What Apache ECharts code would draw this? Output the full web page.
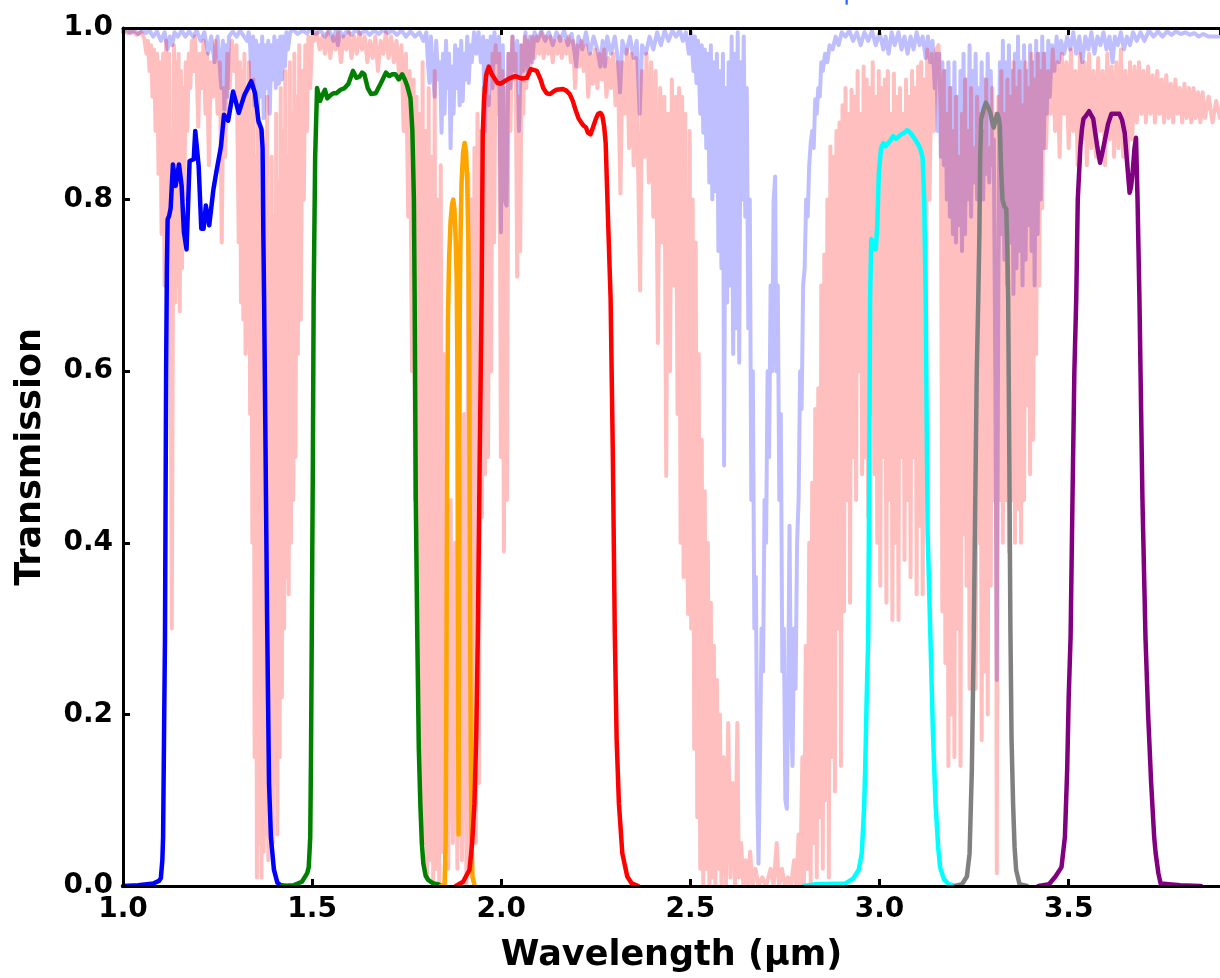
<!DOCTYPE html>
<html>
<head>
<meta charset="utf-8">
<script src="https://cdn.jsdelivr.net/npm/echarts@6/dist/echarts.min.js"></script>
<style>
html,body{margin:0;padding:0;background:#fff;}
#chart{width:1220px;height:978px;}
</style>
</head>
<body>
<div id="chart"></div>
<script>
// ---------------- data (wavelength in micron, transmission) ----------------
const xTickLabels = ['1.0','1.5','2.0','2.5','3.0','3.5'];
const yTickLabels = ['0.0','0.2','0.4','0.6','0.8','1.0'];

// atmospheric transmission, site A (light blue)
const atmBlue = [
[1.000,0.995],[1.010,0.998],[1.020,0.994],[1.030,0.997],[1.040,0.993],[1.050,0.997],[1.060,0.994],[1.070,0.997],[1.080,0.99],[1.090,0.996],[1.100,0.985],[1.110,0.995],[1.118,0.975],[1.124,0.99],[1.130,0.98],[1.136,0.995],[1.145,0.99],[1.155,0.997],[1.165,0.99],[1.175,0.996],[1.185,0.99],[1.195,0.997],[1.205,0.985],[1.215,0.995],[1.225,0.97],[1.233,0.99],[1.242,0.96],[1.250,0.99],[1.255,0.99],[1.260,0.93],[1.264,0.985],[1.268,0.905],[1.272,0.98],[1.276,0.92],[1.280,0.99],[1.290,0.996],[1.300,0.99],[1.310,0.997],[1.320,0.99],[1.328,0.985],[1.332,0.995],
[1.336,0.98],[1.340,0.93],[1.344,0.99],[1.348,0.91],[1.352,0.985],[1.356,0.89],[1.360,0.98],[1.364,0.92],[1.368,0.99],[1.372,0.895],[1.376,0.98],[1.380,0.93],[1.384,0.985],[1.388,0.90],[1.392,0.98],[1.396,0.94],[1.400,0.99],[1.404,0.93],[1.408,0.985],[1.412,0.935],[1.416,0.99],[1.420,0.94],[1.424,0.99],[1.428,0.955],[1.432,0.995],[1.436,0.975],[1.442,0.995],
[1.450,0.998],[1.462,0.993],[1.474,0.997],[1.486,0.994],[1.498,0.998],[1.510,0.993],[1.522,0.997],[1.534,0.99],[1.546,0.997],[1.556,0.985],[1.562,0.997],[1.568,0.98],[1.574,0.996],[1.582,0.99],[1.592,0.997],[1.604,0.992],[1.616,0.998],[1.628,0.993],[1.640,0.997],[1.652,0.992],[1.664,0.997],[1.676,0.993],[1.688,0.998],[1.700,0.994],[1.712,0.997],[1.724,0.992],[1.736,0.997],[1.748,0.99],[1.760,0.996],[1.772,0.99],[1.784,0.995],[1.794,0.985],[1.802,0.995],
[1.806,0.96],[1.810,0.936],[1.814,0.99],[1.819,0.95],[1.824,0.92],[1.828,0.985],[1.833,0.94],[1.838,0.96],[1.842,0.878],[1.846,0.97],[1.850,0.90],[1.854,0.985],[1.858,0.93],[1.862,0.97],[1.866,0.86],[1.870,0.955],[1.874,0.90],[1.878,0.98],[1.882,0.93],[1.886,0.975],[1.890,0.91],[1.894,0.985],[1.898,0.915],[1.902,0.97],[1.906,0.94],[1.910,0.99],[1.914,0.936],[1.918,0.98],[1.922,0.96],[1.928,0.995],[1.934,0.97],[1.940,0.995],[1.946,0.96],[1.952,0.99],[1.957,0.88],[1.962,0.985],[1.967,0.91],[1.972,0.99],[1.977,0.93],[1.982,0.995],[1.988,0.96],[1.994,0.99],[1.999,0.762],[2.004,0.98],[2.009,0.80],[2.014,0.793],[2.019,0.97],[2.024,0.93],[2.030,0.99],[2.036,0.95],[2.042,0.985],[2.047,0.88],[2.052,0.98],[2.058,0.95],[2.064,0.995],[2.070,0.95],[2.076,0.99],[2.082,0.96],[2.088,0.995],
[2.096,0.985],[2.106,0.997],[2.116,0.985],[2.126,0.995],[2.136,0.98],[2.146,0.995],[2.156,0.985],[2.166,0.997],[2.176,0.98],[2.186,0.993],[2.194,0.97],[2.198,0.955],[2.204,0.99],[2.214,0.975],[2.224,0.995],[2.234,0.97],[2.244,0.99],[2.254,0.975],[2.262,0.955],[2.268,0.985],[2.274,0.955],[2.280,0.99],[2.290,0.97],[2.300,0.99],[2.308,0.965],[2.314,0.925],[2.320,0.985],[2.330,0.97],[2.340,0.99],[2.350,0.965],[2.358,0.985],[2.366,0.90],[2.372,0.98],[2.382,0.97],[2.392,0.99],[2.402,0.975],[2.412,0.995],[2.422,0.98],[2.432,0.997],[2.442,0.985],[2.452,0.997],[2.462,0.99],[2.472,0.997],[2.480,0.985],[2.488,0.995],
[2.496,0.97],[2.502,0.995],[2.508,0.95],[2.512,0.99],[2.516,0.936],[2.520,0.985],[2.526,0.90],[2.530,0.98],[2.534,0.878],[2.538,0.975],[2.542,0.86],[2.546,0.97],[2.550,0.82],[2.554,0.98],[2.558,0.80],[2.562,0.96],[2.566,0.81],[2.570,0.97],[2.574,0.74],[2.578,0.95],[2.582,0.72],[2.586,0.97],[2.589,0.49],[2.593,0.93],[2.597,0.68],[2.601,0.96],[2.605,0.70],[2.609,0.99],[2.613,0.62],[2.617,0.97],[2.621,0.65],[2.625,0.995],[2.629,0.61],[2.633,0.96],[2.637,0.80],[2.641,0.99],[2.645,0.78],[2.649,0.93],[2.653,0.65],[2.657,0.80],[2.661,0.45],[2.665,0.60],[2.669,0.30],[2.673,0.36],[2.677,0.10],[2.680,0.026],[2.684,0.15],[2.688,0.30],[2.692,0.25],[2.696,0.45],[2.700,0.40],[2.704,0.60],[2.708,0.50],[2.712,0.70],[2.716,0.60],[2.720,0.80],[2.724,0.827],[2.727,0.60],[2.731,0.70],[2.735,0.45],[2.739,0.55],[2.743,0.25],[2.747,0.30],[2.751,0.10],[2.755,0.09],[2.759,0.25],[2.762,0.42],[2.766,0.20],[2.770,0.14],[2.774,0.30],[2.778,0.23],[2.782,0.40],[2.786,0.45],[2.790,0.60],[2.794,0.556],[2.798,0.70],[2.802,0.72],[2.806,0.80],[2.810,0.78],[2.814,0.84],[2.818,0.866],[2.822,0.88],[2.826,0.86],[2.830,0.917],[2.834,0.90],[2.838,0.93],[2.842,0.92],[2.846,0.96],[2.850,0.95],[2.856,0.97],[2.862,0.96],[2.868,0.98],[2.876,0.975],[2.884,0.99],[2.892,0.98],[2.900,0.995],
[2.910,0.99],[2.920,0.997],[2.930,0.985],[2.940,0.995],[2.950,0.98],[2.960,0.995],[2.970,0.985],[2.980,0.997],[2.990,0.98],[3.000,0.995],[3.010,0.975],[3.016,0.99],[3.024,0.97],[3.032,0.995],[3.040,0.98],[3.050,0.995],[3.058,0.975],[3.066,0.99],[3.074,0.97],[3.082,0.99],[3.090,0.975],[3.098,0.995],[3.106,0.98],[3.114,0.99],[3.122,0.965],[3.128,0.99],[3.134,0.96],[3.140,0.985],[3.146,0.93],
[3.150,0.97],[3.154,0.88],[3.158,0.97],[3.162,0.85],[3.166,0.96],[3.170,0.84],[3.174,0.95],[3.178,0.80],[3.182,0.96],[3.186,0.78],[3.190,0.93],[3.194,0.76],[3.198,0.96],[3.202,0.75],[3.206,0.92],[3.210,0.77],[3.214,0.95],[3.218,0.74],[3.222,0.97],[3.226,0.76],[3.230,0.94],[3.234,0.80],[3.238,0.98],[3.242,0.78],[3.246,0.95],[3.250,0.82],[3.254,0.97],[3.258,0.80],[3.262,0.93],[3.266,0.84],[3.270,0.96],[3.274,0.80],[3.278,0.94],[3.282,0.83],[3.286,0.97],[3.290,0.82],[3.294,0.95],[3.298,0.84],[3.302,0.87],[3.306,0.60],[3.310,0.24],[3.314,0.70],[3.318,0.96],[3.322,0.76],[3.326,0.985],[3.330,0.73],[3.334,0.96],[3.338,0.70],[3.342,0.98],[3.346,0.75],[3.350,0.95],[3.354,0.69],[3.358,0.97],[3.362,0.72],[3.366,0.99],[3.370,0.74],[3.374,0.96],[3.378,0.70],[3.382,0.98],[3.386,0.73],[3.390,0.95],[3.394,0.77],[3.398,0.98],[3.402,0.74],[3.406,0.96],[3.410,0.70],[3.414,0.985],[3.418,0.76],[3.422,0.97],[3.426,0.80],[3.430,0.99],[3.434,0.86],[3.438,0.97],[3.442,0.90],[3.446,0.985],[3.450,0.92],[3.456,0.98],[3.462,0.95],[3.468,0.99],[3.474,0.96],
[3.480,0.985],[3.488,0.97],[3.496,0.99],[3.504,0.975],[3.512,0.995],[3.520,0.97],[3.528,0.99],[3.536,0.96],[3.544,0.99],[3.552,0.975],[3.560,0.995],[3.568,0.97],[3.576,0.99],[3.584,0.98],[3.592,0.995],[3.600,0.975],[3.608,0.99],[3.616,0.96],[3.622,0.99],[3.630,0.98],[3.638,0.995],[3.646,0.975],[3.654,0.99],[3.662,0.98],[3.670,0.995],[3.680,0.985],[3.690,0.995],[3.700,0.985],[3.712,0.997],[3.724,0.99],[3.736,0.996],[3.748,0.99],[3.760,0.996],[3.772,0.992],[3.784,0.996],[3.796,0.993],[3.808,0.995],[3.820,0.992],[3.832,0.994],[3.844,0.99],[3.856,0.993],[3.870,0.99],[3.900,0.99]
];

// atmospheric transmission, site B (light red)
const atmRed = [
[1.000,0.997],[1.012,0.994],[1.024,0.997],[1.036,0.992],[1.048,0.995],[1.056,0.988],
[1.062,0.97],[1.066,0.985],[1.070,0.95],[1.074,0.98],[1.078,0.92],[1.082,0.975],[1.086,0.88],[1.090,0.97],[1.094,0.83],[1.098,0.96],[1.102,0.76],[1.106,0.97],[1.110,0.70],[1.114,0.985],[1.118,0.69],[1.122,0.97],[1.126,0.66],[1.129,0.30],[1.132,0.70],[1.135,0.98],[1.138,0.68],[1.141,0.96],[1.144,0.70],[1.147,0.97],[1.150,0.67],[1.153,0.95],[1.156,0.72],[1.159,0.93],[1.162,0.80],[1.166,0.96],[1.170,0.88],[1.174,0.97],[1.178,0.93],[1.182,0.985],[1.186,0.95],[1.190,0.99],
[1.195,0.95],[1.199,0.885],[1.203,0.97],[1.208,0.93],[1.213,0.985],[1.218,0.90],[1.222,0.97],[1.227,0.84],[1.232,0.96],[1.238,0.92],[1.244,0.985],[1.250,0.90],[1.256,0.96],[1.261,0.75],[1.265,0.93],[1.270,0.85],[1.276,0.97],[1.282,0.93],[1.288,0.985],[1.294,0.95],[1.300,0.98],
[1.303,0.98],[1.306,0.75],[1.309,0.96],[1.312,0.68],[1.315,0.95],[1.318,0.66],[1.321,0.97],[1.324,0.62],[1.327,0.93],[1.330,0.63],[1.333,0.96],[1.336,0.55],[1.339,0.90],[1.342,0.40],[1.345,0.94],[1.348,0.15],[1.351,0.85],[1.354,0.01],[1.357,0.90],[1.360,0.05],[1.363,0.80],[1.366,0.01],[1.369,0.88],[1.372,0.04],[1.375,0.75],[1.378,0.06],[1.381,0.92],[1.384,0.03],[1.387,0.70],[1.390,0.08],[1.393,0.85],[1.396,0.05],[1.399,0.78],[1.402,0.12],[1.405,0.90],[1.408,0.06],[1.411,0.82],[1.414,0.15],[1.417,0.93],[1.420,0.22],[1.423,0.88],[1.426,0.30],[1.429,0.95],[1.432,0.36],[1.435,0.85],[1.438,0.34],[1.441,0.96],[1.444,0.40],[1.447,0.90],[1.450,0.45],[1.453,0.97],[1.456,0.50],[1.459,0.92],[1.462,0.62],[1.466,0.98],[1.470,0.66],[1.474,0.95],[1.478,0.80],[1.482,0.98],[1.486,0.88],[1.490,0.99],[1.495,0.93],[1.500,0.99],
[1.505,0.985],[1.512,0.995],[1.520,0.975],[1.527,0.99],[1.534,0.97],[1.541,0.995],[1.548,0.965],[1.555,0.99],[1.562,0.975],[1.569,0.995],[1.576,0.96],[1.583,0.99],[1.590,0.975],[1.597,0.995],[1.604,0.965],[1.611,0.99],[1.618,0.97],[1.625,0.995],[1.632,0.975],[1.639,0.99],[1.646,0.96],[1.653,0.985],[1.660,0.965],[1.667,0.99],[1.674,0.95],[1.681,0.985],[1.688,0.97],[1.695,0.995],[1.702,0.965],[1.709,0.99],[1.716,0.96],[1.723,0.985],[1.730,0.945],[1.736,0.98],[1.742,0.88],[1.748,0.97],[1.754,0.78],[1.758,0.95],
[1.764,0.60],[1.768,0.94],[1.772,0.45],[1.776,0.92],[1.780,0.30],[1.784,0.90],[1.788,0.12],[1.792,0.96],[1.796,0.05],[1.800,0.88],[1.804,0.01],[1.808,0.93],[1.812,0.03],[1.816,0.85],[1.820,0.00],[1.824,0.95],[1.828,0.02],[1.832,0.80],[1.836,0.00],[1.840,0.84],[1.844,0.04],[1.848,0.62],[1.852,0.00],[1.856,0.52],[1.860,0.02],[1.866,0.45],[1.872,0.05],[1.878,0.40],[1.884,0.02],[1.890,0.50],[1.896,0.03],[1.902,0.55],[1.908,0.00],[1.913,0.83],[1.917,0.02],[1.921,0.80],[1.925,0.10],[1.929,0.86],[1.933,0.05],[1.937,0.90],[1.941,0.12],[1.945,0.88],[1.949,0.43],[1.953,0.93],[1.957,0.48],[1.961,0.95],[1.965,0.50],[1.969,0.92],[1.973,0.60],[1.977,0.97],[1.981,0.75],[1.985,0.98],[1.990,0.90],[1.995,0.97],[1.999,0.50],[2.003,0.95],[2.007,0.39],[2.011,0.93],[2.015,0.45],[2.019,0.97],[2.024,0.88],[2.029,0.99],[2.033,0.94],[2.038,0.97],[2.042,0.71],[2.046,0.92],[2.050,0.74],[2.054,0.98],[2.058,0.90],[2.062,0.99],[2.066,0.93],
[2.070,0.985],[2.076,0.95],[2.082,0.99],[2.088,0.965],[2.094,0.99],[2.100,0.97],[2.106,0.995],[2.112,0.965],[2.118,0.99],[2.124,0.97],[2.130,0.99],[2.136,0.96],[2.142,0.985],[2.148,0.97],[2.154,0.99],[2.160,0.965],[2.166,0.985],[2.172,0.97],[2.178,0.99],[2.184,0.96],[2.190,0.985],[2.195,0.93],[2.200,0.98],[2.206,0.955],[2.212,0.985],[2.218,0.95],[2.224,0.98],[2.230,0.92],[2.236,0.97],[2.242,0.935],[2.248,0.975],[2.254,0.93],[2.260,0.97],[2.266,0.94],[2.272,0.975],[2.278,0.92],[2.284,0.965],[2.290,0.93],[2.296,0.97],[2.302,0.91],[2.308,0.96],[2.315,0.807],[2.320,0.96],[2.326,0.90],[2.332,0.975],[2.338,0.86],[2.344,0.97],[2.350,0.84],[2.356,0.965],[2.362,0.83],[2.367,0.694],[2.372,0.95],[2.378,0.85],[2.384,0.97],[2.390,0.82],[2.396,0.96],[2.402,0.78],[2.408,0.95],[2.414,0.633],[2.420,0.93],[2.426,0.75],[2.431,0.92],[2.436,0.478],[2.441,0.90],[2.446,0.60],[2.451,0.94],[2.456,0.70],[2.461,0.92],[2.466,0.55],
[2.470,0.93],[2.474,0.40],[2.478,0.92],[2.482,0.36],[2.486,0.90],[2.490,0.45],[2.494,0.317],[2.498,0.88],[2.502,0.30],[2.506,0.80],[2.510,0.16],[2.514,0.75],[2.518,0.08],[2.522,0.62],[2.526,0.02],[2.530,0.52],[2.534,0.00],[2.538,0.46],[2.542,0.02],[2.546,0.40],[2.550,0.00],[2.554,0.33],[2.558,0.01],[2.562,0.28],[2.566,0.00],[2.570,0.24],[2.574,0.02],[2.578,0.20],[2.582,0.00],[2.588,0.15],[2.594,0.00],[2.600,0.19],[2.606,0.01],[2.612,0.12],[2.618,0.00],[2.624,0.19],[2.628,0.01],
[2.634,0.05],[2.640,0.00],[2.646,0.03],[2.652,0.00],[2.658,0.04],[2.664,0.00],[2.672,0.02],[2.680,0.00],[2.690,0.01],[2.700,0.00],[2.712,0.02],[2.720,0.00],[2.728,0.05],[2.734,0.00],[2.742,0.02],[2.750,0.00],[2.758,0.01],[2.766,0.00],[2.774,0.03],[2.780,0.00],[2.786,0.06],[2.790,0.00],[2.796,0.15],[2.800,0.00],[2.805,0.28],[2.809,0.02],[2.814,0.40],[2.818,0.00],[2.822,0.47],[2.826,0.05],[2.830,0.556],[2.834,0.01],[2.838,0.58],[2.842,0.08],[2.846,0.70],[2.850,0.02],[2.854,0.736],[2.858,0.10],[2.862,0.80],[2.866,0.01],[2.870,0.862],[2.874,0.15],[2.878,0.85],[2.882,0.11],[2.886,0.88],[2.890,0.30],[2.894,0.89],[2.898,0.14],[2.902,0.91],[2.906,0.32],[2.910,0.93],[2.914,0.45],[2.918,0.90],[2.922,0.33],[2.926,0.928],[2.930,0.50],[2.934,0.92],[2.938,0.45],[2.942,0.95],[2.946,0.60],[2.950,0.90],[2.954,0.48],[2.958,0.955],[2.962,0.50],[2.966,0.94],[2.970,0.43],[2.974,0.93],[2.978,0.55],[2.982,0.96],[2.986,0.48],[2.990,0.92],[2.994,0.40],[2.998,0.95],[3.002,0.35],[3.006,0.93],[3.010,0.50],[3.014,0.94],[3.018,0.33],[3.022,0.95],[3.026,0.45],[3.030,0.90],[3.034,0.31],[3.038,0.947],[3.042,0.40],[3.046,0.92],[3.050,0.31],[3.054,0.93],[3.058,0.50],[3.062,0.90],[3.066,0.38],[3.070,0.94],[3.074,0.45],[3.078,0.92],[3.082,0.36],[3.086,0.95],[3.090,0.50],[3.094,0.93],[3.098,0.34],[3.102,0.955],[3.106,0.42],[3.110,0.96],[3.114,0.34],[3.118,0.94],[3.122,0.55],[3.126,0.975],[3.132,0.80],[3.138,0.97],[3.144,0.88],[3.150,0.975],
[3.156,0.98],[3.162,0.90],[3.166,0.32],[3.170,0.95],[3.174,0.26],[3.178,0.90],[3.182,0.14],[3.186,0.93],[3.190,0.20],[3.194,0.88],[3.198,0.15],[3.202,0.92],[3.206,0.30],[3.210,0.85],[3.214,0.14],[3.218,0.90],[3.222,0.41],[3.226,0.94],[3.230,0.35],[3.234,0.88],[3.238,0.23],[3.242,0.93],[3.246,0.30],[3.250,0.86],[3.254,0.23],[3.258,0.92],[3.262,0.40],[3.266,0.90],[3.270,0.17],[3.274,0.88],[3.278,0.25],[3.282,0.94],[3.286,0.20],[3.290,0.86],[3.294,0.35],[3.298,0.93],[3.302,0.45],[3.306,0.90],[3.310,0.015],[3.314,0.92],[3.318,0.45],[3.322,0.95],[3.326,0.40],[3.330,0.90],[3.334,0.45],[3.338,0.94],[3.342,0.39],[3.346,0.92],[3.350,0.45],[3.354,0.96],[3.358,0.40],[3.362,0.93],[3.366,0.44],[3.370,0.95],[3.374,0.40],[3.378,0.91],[3.382,0.45],[3.386,0.96],[3.390,0.56],[3.394,0.93],[3.398,0.48],[3.402,0.97],[3.406,0.52],[3.410,0.94],[3.414,0.62],[3.418,0.97],[3.422,0.70],[3.426,0.95],[3.430,0.79],[3.434,0.97],[3.440,0.86],
[3.446,0.95],[3.452,0.90],[3.458,0.975],[3.464,0.88],[3.470,0.96],[3.476,0.85],[3.482,0.97],[3.488,0.90],[3.494,0.96],[3.500,0.86],[3.506,0.975],[3.512,0.88],[3.518,0.95],[3.524,0.84],[3.530,0.97],[3.536,0.87],[3.542,0.96],[3.548,0.84],[3.554,0.97],[3.560,0.86],[3.566,0.95],[3.572,0.85],[3.578,0.965],[3.584,0.88],[3.590,0.95],[3.596,0.84],[3.602,0.97],[3.608,0.87],[3.614,0.955],[3.620,0.85],[3.626,0.96],[3.632,0.86],[3.638,0.975],[3.644,0.85],[3.650,0.95],[3.656,0.84],[3.662,0.96],[3.668,0.87],[3.674,0.955],[3.680,0.89],[3.686,0.96],[3.692,0.90],[3.698,0.95],[3.704,0.89],[3.710,0.955],[3.716,0.90],[3.722,0.945],[3.728,0.89],[3.734,0.95],[3.740,0.90],[3.746,0.94],[3.752,0.89],[3.758,0.945],[3.764,0.895],[3.770,0.935],[3.776,0.89],[3.782,0.94],[3.788,0.90],[3.794,0.93],[3.800,0.89],[3.806,0.935],[3.812,0.895],[3.818,0.93],[3.824,0.89],[3.830,0.93],[3.836,0.895],[3.842,0.925],[3.848,0.89],[3.854,0.925],[3.860,0.895],[3.870,0.92],[3.880,0.89],[3.890,0.915],[3.900,0.895]
];

// filter transmission curves
const filterJ = [
[1.000,0.000],[1.040,0.001],[1.080,0.003],[1.095,0.006],[1.100,0.009],[1.104,0.030],[1.106,0.057],[1.109,0.200],[1.111,0.290],[1.114,0.600],[1.116,0.720],[1.118,0.777],[1.122,0.781],[1.126,0.790],[1.132,0.841],[1.139,0.816],[1.148,0.841],[1.155,0.816],[1.161,0.762],[1.168,0.742],[1.176,0.845],[1.187,0.847],[1.191,0.880],[1.195,0.878],[1.200,0.839],[1.207,0.766],[1.213,0.766],[1.219,0.793],[1.228,0.770],[1.239,0.812],[1.247,0.833],[1.259,0.862],[1.267,0.899],[1.278,0.892],[1.291,0.926],[1.306,0.901],[1.321,0.922],[1.339,0.938],[1.349,0.924],[1.358,0.892],[1.366,0.882],[1.369,0.860],[1.371,0.760],[1.373,0.685],[1.377,0.500],[1.381,0.310],[1.386,0.120],[1.391,0.057],[1.399,0.019],[1.408,0.004],[1.416,0.001],[1.430,0.000]
];
const filterH = [
[1.420,0.000],[1.452,0.001],[1.473,0.005],[1.487,0.015],[1.491,0.022],[1.495,0.057],[1.497,0.150],[1.499,0.290],[1.502,0.500],[1.504,0.685],[1.508,0.850],[1.513,0.930],[1.521,0.915],[1.527,0.922],[1.534,0.928],[1.540,0.918],[1.547,0.921],[1.556,0.924],[1.564,0.924],[1.575,0.928],[1.586,0.930],[1.596,0.935],[1.608,0.950],[1.617,0.942],[1.625,0.943],[1.632,0.948],[1.638,0.946],[1.647,0.930],[1.656,0.923],[1.668,0.924],[1.682,0.936],[1.695,0.948],[1.704,0.944],[1.712,0.946],[1.720,0.946],[1.729,0.940],[1.738,0.946],[1.745,0.940],[1.751,0.933],[1.756,0.925],[1.760,0.918],[1.765,0.880],[1.769,0.800],[1.771,0.685],[1.774,0.450],[1.778,0.290],[1.782,0.160],[1.786,0.096],[1.790,0.050],[1.794,0.026],[1.800,0.012],[1.807,0.007],[1.820,0.003],[1.833,0.002],[1.846,0.000]
];
const filterNarrow = [
[1.840,0.000],[1.850,0.002],[1.853,0.050],[1.855,0.250],[1.857,0.500],[1.859,0.660],[1.862,0.730],[1.866,0.775],[1.870,0.795],[1.873,0.800],[1.876,0.790],[1.879,0.760],[1.882,0.710],[1.884,0.600],[1.885,0.400],[1.886,0.200],[1.887,0.060],[1.888,0.200],[1.889,0.450],[1.890,0.650],[1.892,0.750],[1.895,0.820],[1.899,0.855],[1.903,0.866],[1.907,0.855],[1.910,0.820],[1.913,0.750],[1.915,0.620],[1.917,0.400],[1.919,0.180],[1.921,0.060],[1.924,0.010],[1.930,0.000]
];
const filterK = [
[1.880,0.000],[1.899,0.005],[1.916,0.019],[1.923,0.050],[1.929,0.096],[1.934,0.180],[1.938,0.290],[1.943,0.500],[1.948,0.685],[1.951,0.878],[1.955,0.920],[1.960,0.945],[1.967,0.955],[1.975,0.946],[1.981,0.942],[1.990,0.936],[1.998,0.935],[2.009,0.938],[2.020,0.941],[2.037,0.944],[2.055,0.941],[2.068,0.942],[2.078,0.952],[2.094,0.950],[2.104,0.940],[2.111,0.930],[2.120,0.924],[2.129,0.923],[2.138,0.926],[2.146,0.928],[2.163,0.929],[2.172,0.927],[2.181,0.923],[2.189,0.915],[2.196,0.905],[2.204,0.895],[2.211,0.890],[2.218,0.886],[2.224,0.884],[2.229,0.878],[2.236,0.876],[2.243,0.885],[2.250,0.894],[2.256,0.900],[2.262,0.901],[2.267,0.898],[2.272,0.885],[2.276,0.866],[2.282,0.780],[2.289,0.685],[2.295,0.500],[2.300,0.297],[2.305,0.170],[2.311,0.096],[2.320,0.038],[2.333,0.011],[2.345,0.003],[2.362,0.000]
];
const filterL1 = [
[2.800,0.000],[2.832,0.002],[2.910,0.003],[2.931,0.009],[2.945,0.019],[2.953,0.038],[2.959,0.090],[2.962,0.135],[2.966,0.220],[2.970,0.290],[2.973,0.500],[2.975,0.685],[2.978,0.754],[2.982,0.756],[2.986,0.748],[2.990,0.742],[2.994,0.770],[2.998,0.830],[3.004,0.860],[3.010,0.866],[3.016,0.862],[3.021,0.862],[3.027,0.868],[3.036,0.874],[3.044,0.871],[3.057,0.876],[3.065,0.878],[3.073,0.881],[3.081,0.878],[3.088,0.874],[3.097,0.868],[3.105,0.862],[3.110,0.856],[3.114,0.848],[3.118,0.800],[3.122,0.685],[3.127,0.414],[3.134,0.297],[3.141,0.180],[3.148,0.096],[3.155,0.045],[3.160,0.022],[3.170,0.008],[3.183,0.002],[3.200,0.000]
];
const filterL2 = [
[3.200,0.000],[3.218,0.002],[3.231,0.011],[3.238,0.038],[3.244,0.135],[3.249,0.290],[3.253,0.450],[3.257,0.600],[3.261,0.685],[3.264,0.762],[3.266,0.850],[3.269,0.894],[3.275,0.905],[3.281,0.913],[3.287,0.908],[3.293,0.901],[3.298,0.890],[3.302,0.884],[3.306,0.892],[3.311,0.900],[3.315,0.895],[3.318,0.886],[3.321,0.840],[3.325,0.800],[3.330,0.792],[3.335,0.789],[3.338,0.740],[3.340,0.685],[3.343,0.500],[3.346,0.297],[3.349,0.170],[3.353,0.096],[3.357,0.045],[3.361,0.019],[3.370,0.002],[3.390,0.000]
];
const filterL3 = [
[3.420,0.000],[3.448,0.002],[3.465,0.011],[3.481,0.022],[3.490,0.057],[3.496,0.135],[3.500,0.220],[3.505,0.290],[3.510,0.450],[3.515,0.600],[3.520,0.685],[3.524,0.800],[3.531,0.862],[3.535,0.882],[3.539,0.894],[3.546,0.898],[3.554,0.903],[3.560,0.898],[3.565,0.894],[3.571,0.875],[3.578,0.855],[3.583,0.843],[3.589,0.855],[3.596,0.870],[3.604,0.888],[3.613,0.900],[3.623,0.900],[3.634,0.900],[3.641,0.893],[3.648,0.878],[3.655,0.840],[3.661,0.808],[3.665,0.815],[3.669,0.832],[3.674,0.860],[3.678,0.872],[3.682,0.800],[3.687,0.685],[3.695,0.450],[3.703,0.290],[3.710,0.200],[3.718,0.120],[3.726,0.057],[3.730,0.038],[3.737,0.015],[3.743,0.003],[3.795,0.001],[3.850,0.000]
];

// ---------------- chart ----------------
const chart = echarts.init(document.getElementById('chart'), null, {renderer: 'canvas'});
const FONT = 'DejaVu Sans';
const axisCommonX = {
  type: 'value', min: 1.0, max: 3.9, interval: 0.5,
  splitLine: {show: false},
  axisLine: {show: true, onZero: false, lineStyle: {color: '#000', width: 3}},
  axisTick: {show: true, inside: true, length: 7, lineStyle: {color: '#000', width: 3}},
  z: 10
};
function xLabel(v) {
  const s = (Math.round(v * 10) / 10).toFixed(1);
  return xTickLabels.indexOf(s) >= 0 ? s : '';
}
function lineSeries(name, data, color, opacity, width, z) {
  return {
    name: name, type: 'line', data: data, showSymbol: false, symbol: 'none',
    smooth: false, animation: false, z: z, silent: true,
    lineStyle: {color: color, width: width, opacity: opacity, join: 'round', cap: 'round'}
  };
}
chart.setOption({
  animation: false,
  backgroundColor: '#ffffff',
  grid: {left: 123, top: 28, width: 1113.6, height: 861, containLabel: false},
  xAxis: [
    Object.assign({}, axisCommonX, {
      position: 'bottom',
      name: 'Wavelength (\u03bcm)', nameLocation: 'middle', nameGap: 52,
      nameTextStyle: {fontFamily: FONT, fontWeight: 'bold', fontSize: 35, color: '#000'},
      axisLabel: {show: true, formatter: xLabel, margin: 10, showMaxLabel: false,
        fontFamily: FONT, fontWeight: 'bold', fontSize: 28, color: '#000'}
    }),
    Object.assign({}, axisCommonX, {position: 'top', axisLabel: {show: false}})
  ],
  yAxis: {
    type: 'value', min: 0, max: 1, interval: 0.2,
    splitLine: {show: false},
    axisLine: {show: true, lineStyle: {color: '#000', width: 3}},
    axisTick: {show: true, inside: true, length: 7, lineStyle: {color: '#000', width: 3}},
    axisLabel: {formatter: v => yTickLabels[Math.round(v * 5)] || '', margin: 10,
      fontFamily: FONT, fontWeight: 'bold', fontSize: 28, color: '#000'},
    name: 'Transmission', nameLocation: 'middle', nameGap: 75, nameRotate: 90,
    nameTextStyle: {fontFamily: FONT, fontWeight: 'bold', fontSize: 35, color: '#000'},
    z: 10
  },
  graphic: [{
    type: 'text', x: 843, y: 5, silent: true,
    style: {text: '|', fill: '#2a64ff', font: 'bold 20px "DejaVu Sans"', verticalAlign: 'bottom'}
  }],
  series: [
    lineSeries('Atmosphere A', atmBlue, '#0000ff', 0.25, 4, 1),
    lineSeries('Atmosphere B', atmRed, '#ff0000', 0.25, 4, 2),
    lineSeries('J', filterJ, '#0000ff', 1, 4.5, 3),
    lineSeries('H', filterH, '#008000', 1, 4.5, 3),
    lineSeries('Narrow', filterNarrow, '#ffa500', 1, 4.5, 3),
    lineSeries('K', filterK, '#ff0000', 1, 4.5, 3),
    lineSeries('L1', filterL1, '#00ffff', 1, 4.5, 3),
    lineSeries('L2', filterL2, '#808080', 1, 4.5, 3),
    lineSeries('L3', filterL3, '#800080', 1, 4.5, 3)
  ]
});
</script>
</body>
</html>
